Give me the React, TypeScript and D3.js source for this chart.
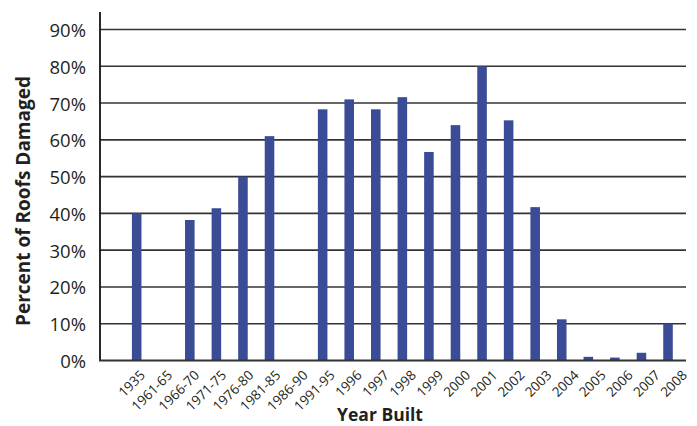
import React from "react";
import * as d3 from "d3";

const categories = [
  "1935", "1961-65", "1966-70", "1971-75", "1976-80", "1981-85", "1986-90",
  "1991-95", "1996", "1997", "1998", "1999", "2000", "2001", "2002", "2003",
  "2004", "2005", "2006", "2007", "2008",
];
const damaged = [40, 0, 38.2, 41.4, 50, 61, 0, 68.3, 71, 68.3, 71.6, 56.7, 64, 80, 65.3, 41.7, 11.2, 1.0, 0.8, 2.1, 10];
const yTicks = [0, 10, 20, 30, 40, 50, 60, 70, 80, 90];
const yTitle = "Percent of Roofs Damaged";
const xTitle = "Year Built";

const W = 697;
const H = 426;
const plotLeft = 100;
const plotRight = 686;

export default function App() {
  const y = d3.scaleLinear().domain([0, 90]).range([360.5, 29.5]);
  const x = d3
    .scaleBand<string>()
    .domain(categories)
    .range([123.4, 681.3])
    .paddingInner(0.64)
    .paddingOuter(0.32);
  const xl = d3.scalePoint<string>().domain(categories).range([146, 688]);
  const font = "'Open Sans', 'DejaVu Sans', sans-serif";
  return (
    <svg
      width={W}
      height={H}
      style={{ position: "absolute", left: 0, top: 0, background: "#fff" }}
      fontFamily={font}
    >
      {yTicks.map((t) => (
        <g key={t}>
          {t > 0 && (
            <line x1={plotLeft} x2={plotRight} y1={y(t)} y2={y(t)} stroke="#333" strokeWidth={1.6} />
          )}
          <text
            x={86}
            y={y(t)}
            textAnchor="end"
            dominantBaseline="central"
            fontSize={18.5}
            fill="#231f20"
          >
            {`${t}%`}
          </text>
        </g>
      ))}
      {categories.map((c, i) => (
        <rect
          key={c}
          x={x(c)}
          width={x.bandwidth()}
          y={y(damaged[i])}
          height={y(0) - y(damaged[i])}
          fill="#3b4c96"
        />
      ))}
      <line x1={plotLeft} x2={plotLeft} y1={12} y2={y(0)} stroke="#111" strokeWidth={1.8} />
      <line x1={plotLeft - 1} x2={plotRight} y1={y(0)} y2={y(0)} stroke="#333" strokeWidth={2} />
      {categories.map((c) => (
        <text
          key={c}
          transform={`translate(${xl(c)},376) rotate(-45)`}
          textAnchor="end"
          fontSize={13.5}
          fill="#231f20"
        >
          {c}
        </text>
      ))}
      <text
        transform="translate(30,201) rotate(-90)"
        textAnchor="middle"
        fontSize={19}
        fontWeight="bold"
        fill="#231f20"
      >
        {yTitle}
      </text>
      <text x={380} y={421} textAnchor="middle" fontSize={17.5} fontWeight="bold" fill="#231f20">
        {xTitle}
      </text>
    </svg>
  );
}
